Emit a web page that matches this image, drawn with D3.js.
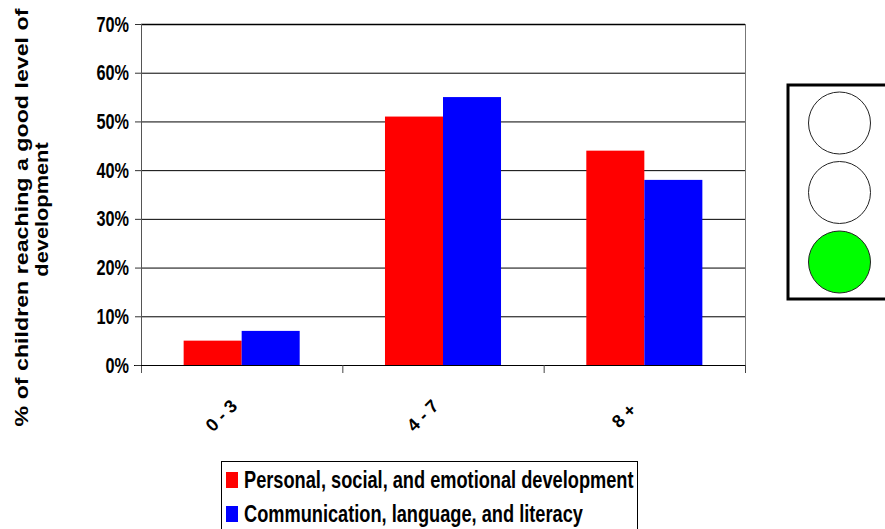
<!DOCTYPE html>
<html>
<head>
<meta charset="utf-8">
<script src="https://cdn.jsdelivr.net/npm/d3@7"></script>
<style>
  html, body { margin: 0; padding: 0; background: #fff; overflow: hidden; }
  text { font-family: "Liberation Sans", Arial, sans-serif; font-weight: bold; fill: #000; }
</style>
</head>
<body>
<div id="chart"></div>
<script>
var categories = ["0 - 3", "4 - 7", "8 +"];
var seriesNames = ["Personal, social, and emotional development", "Communication, language, and literacy"];
var personal = [5, 51, 44];
var communication = [7, 55, 38];
var yTicks = [0, 10, 20, 30, 40, 50, 60, 70];
var seriesColors = ["#ff0000", "#0000ff"];
var yTitleLines = ["% of children reaching a good level of", "development"];
var lights = ["#ffffff", "#ffffff", "#00ff00"];

var svg = d3.select("#chart").append("svg")
    .attr("width", 885)
    .attr("height", 529);

var x0 = d3.scaleBand().domain(categories).range([141, 745]);
var x1 = d3.scaleBand().domain(seriesNames).range([0, x0.bandwidth()])
    .paddingInner(0).paddingOuter(0.735);
var y = d3.scaleLinear().domain([0, 70]).range([365, 24]);

// gridlines
svg.selectAll(".grid")
    .data(yTicks.slice(1))
  .enter().append("line")
    .attr("x1", 141).attr("x2", 745)
    .attr("y1", function (d) { return y(d) + 0.5; })
    .attr("y2", function (d) { return y(d) + 0.5; })
    .attr("stroke", "#000")
    .attr("stroke-width", function (d) { return d == 70 ? 1.5 : 1; });

// bars
[personal, communication].forEach(function (values, s) {
  svg.selectAll(".bar" + s)
      .data(values)
    .enter().append("rect")
      .attr("x", function (d, i) { return x0(categories[i]) + x1(seriesNames[s]); })
      .attr("y", function (d) { return y(d); })
      .attr("width", x1.bandwidth())
      .attr("height", function (d) { return y(0) - y(d); })
      .attr("fill", seriesColors[s]);
});

// plot frame, left and right sides are grey
svg.append("line").attr("x1", 141.5).attr("x2", 141.5).attr("y1", 24).attr("y2", 373).attr("stroke", "#555");
svg.append("line").attr("x1", 745.5).attr("x2", 745.5).attr("y1", 24).attr("y2", 373).attr("stroke", "#777");
svg.append("line").attr("x1", 134).attr("x2", 745).attr("y1", y(0) + 0.5).attr("y2", y(0) + 0.5).attr("stroke", "#000");

// y axis
svg.selectAll(".ytick")
    .data(yTicks)
  .enter().append("line")
    .attr("x1", 135).attr("x2", 141)
    .attr("y1", function (d) { return y(d) + 0.5; })
    .attr("y2", function (d) { return y(d) + 0.5; })
    .attr("stroke", "#333");

svg.selectAll(".ylabel")
    .data(yTicks)
  .enter().append("text")
    .attr("transform", function (d) { return "translate(129," + (y(d) + 7.5) + ") scale(0.74,1)"; })
    .attr("text-anchor", "end")
    .style("font-size", "22px")
    .text(function (d) { return d + "%"; });

// x axis
svg.selectAll(".xtick")
    .data(categories)
  .enter().append("line")
    .attr("x1", function (d) { return x0(d) + x0.bandwidth() + 0.5; })
    .attr("x2", function (d) { return x0(d) + x0.bandwidth() + 0.5; })
    .attr("y1", 365).attr("y2", 373)
    .attr("stroke", "#444");

svg.selectAll(".xlabel")
    .data(categories)
  .enter().append("text")
    .attr("transform", function (d) { return "translate(" + (x0(d) + x0.bandwidth() / 2 - 16) + ",420) rotate(-45)"; })
    .attr("text-anchor", "middle")
    .style("font-size", "18px")
    .text(function (d) { return d; });

// y title, second line sits a bit higher and tighter than the first
svg.selectAll(".ytitle")
    .data(yTitleLines)
  .enter().append("text")
    .attr("transform", function (d, i) {
      return "translate(" + (27.5 + i * 20) + "," + (217.5 - i * 8) + ") rotate(-90) scale(" + (i == 0 ? 1.29 : 1.21) + ",1)";
    })
    .attr("text-anchor", "middle")
    .style("font-size", "18px")
    .text(function (d) { return d; });

// legend
svg.append("rect")
    .attr("x", 221.5).attr("y", 461.5)
    .attr("width", 416).attr("height", 80)
    .attr("fill", "#fff").attr("stroke", "#000");

var legend = svg.selectAll(".legend")
    .data(seriesNames)
  .enter().append("g")
    .attr("transform", function (d, i) { return "translate(0," + (480 + i * 34) + ")"; });
legend.append("rect")
    .attr("x", 226).attr("y", -8)
    .attr("width", 12).attr("height", 16)
    .attr("fill", function (d, i) { return seriesColors[i]; });
legend.append("text")
    .attr("transform", "translate(244,8) scale(0.792,1)")
    .style("font-size", "23px")
    .text(function (d) { return d; });

// traffic light
svg.append("rect")
    .attr("x", 788).attr("y", 85)
    .attr("width", 110).attr("height", 214)
    .attr("fill", "#fff").attr("stroke", "#000").attr("stroke-width", 3);
svg.selectAll(".light")
    .data(lights)
  .enter().append("circle")
    .attr("cx", 839.5)
    .attr("cy", function (d, i) { return 123 + i * 69.5; })
    .attr("r", 31)
    .attr("fill", function (d) { return d; })
    .attr("stroke", "#222");
</script>
</body>
</html>
